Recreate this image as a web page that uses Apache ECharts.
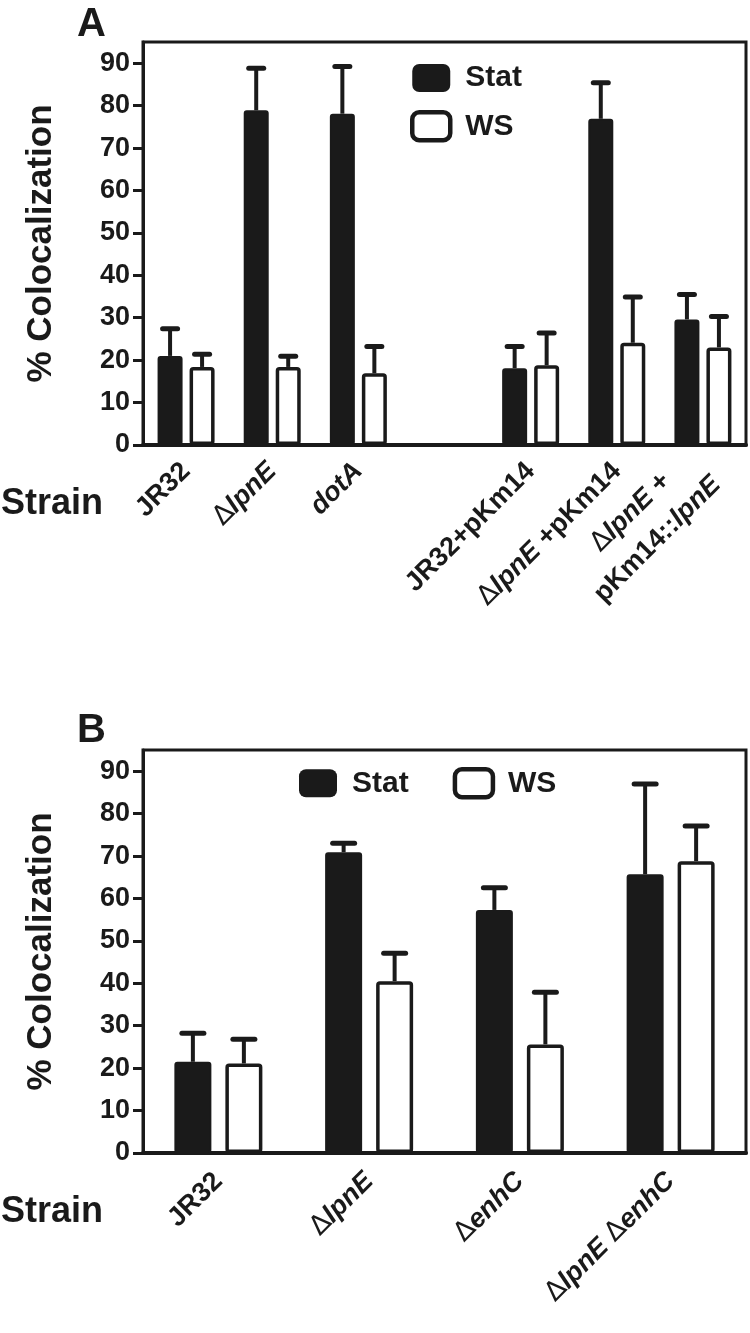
<!DOCTYPE html>
<html><head><meta charset="utf-8">
<script src="https://cdn.jsdelivr.net/npm/echarts@6/dist/echarts.min.js"></script>
<style>html,body{margin:0;padding:0;background:#fff}#c{width:750px;height:1333px}</style>
</head><body><div id="c"></div>
<script>
// ---------- data ----------
const categoriesA = ['JR32', 'ΔlpnE', 'dotA', '', 'JR32+pKm14', 'ΔlpnE +pKm14', 'ΔlpnE +\npKm14::lpnE'];
const statA    = [21.0, 78.9, 78.1, null, 18.1, 76.9, 29.6];
const statErrA = [6.4, 9.9, 11.1, null, 5.1, 8.5, 5.9];
const wsA      = [18.4, 18.4, 16.9, null, 18.8, 24.1, 23.0];
const wsErrA   = [3.0, 2.5, 6.3, null, 7.6, 10.8, 7.3];

const categoriesB = ['JR32', 'ΔlpnE', 'ΔenhC', 'ΔlpnE ΔenhC'];
const statB    = [21.5, 70.9, 57.3, 65.7];
const statErrB = [6.7, 2.1, 5.2, 21.3];
const wsB      = [21.1, 40.5, 25.6, 68.8];
const wsErrB   = [5.7, 6.6, 12.3, 8.3];

const yTicks = [0, 10, 20, 30, 40, 50, 60, 70, 80, 90];
const seriesNames = ['Stat', 'WS'];
const panelLetters = ['A', 'B'];
const yTitle = '% Colocalization';
const xTitle = 'Strain';

// ---------- styling ----------
const INK = '#1a1a1a';
const SANS = "'Liberation Sans', Arial, sans-serif";
const LBL = 27;

function richLabel(s) {
  const lines = s.split('\n');
  return lines.map((line, li) => {
    const suf = (lines.length > 1 && li === 0) ? 'c' : '';
    return line.split(/(Δ|lpnE|dotA|enhC)/).filter(t => t !== '').map(t => {
      if (t === 'Δ') return '{d' + suf + '|Δ}';
      if (/^(lpnE|dotA|enhC)$/.test(t)) return '{i' + suf + '|' + t + '}';
      return '{b' + suf + '|' + t + '}';
    }).join('');
  }).join('\n');
}
const richBase = {
  b: { fontFamily: SANS, fontWeight: 'bold', fontSize: LBL, color: INK, lineHeight: 38 },
  i: { fontFamily: SANS, fontWeight: 'bold', fontStyle: 'italic', fontSize: LBL, color: INK, lineHeight: 38 },
  d: { fontFamily: "'DejaVu Sans', sans-serif", fontWeight: 'normal', fontSize: LBL, color: INK, lineHeight: 38 }
};
const rich = {};
Object.keys(richBase).forEach(k => {
  rich[k] = richBase[k];
  rich[k + 'c'] = Object.assign({}, richBase[k], { align: 'center' });
});

function errSeries(idx, means, errs, offset, capW) {
  const data = [];
  means.forEach((m, i) => { if (m != null) data.push([i, m, m + errs[i]]); });
  return {
    type: 'custom', xAxisIndex: idx, yAxisIndex: idx, z: 1, silent: true,
    data: data,
    renderItem(params, api) {
      const i = api.value(0);
      const p0 = api.coord([i, api.value(1)]);
      const p1 = api.coord([i, api.value(2)]);
      const x = p0[0] + offset;
      return { type: 'group', children: [
        { type: 'line', shape: { x1: x, y1: p0[1], x2: x, y2: p1[1] }, style: { stroke: INK, lineWidth: 4 } },
        { type: 'line', shape: { x1: x - capW / 2, y1: p1[1], x2: x + capW / 2, y2: p1[1] }, style: { stroke: INK, lineWidth: 5, lineCap: 'round' } }
      ] };
    }
  };
}

function yAxis(idx) {
  return {
    type: 'value', gridIndex: idx, min: 0, max: 95, interval: 10,
    name: yTitle, nameLocation: 'middle', nameGap: 84,
    nameTextStyle: { fontFamily: SANS, fontWeight: 'bold', fontSize: 35, color: INK },
    axisLine: { show: true, lineStyle: { color: INK, width: 3 } },
    axisTick: { show: true, length: 10, lineStyle: { color: INK, width: 3 }, customValues: yTicks },
    axisLabel: { fontFamily: SANS, fontWeight: 'bold', fontSize: 27, color: INK, margin: 13, customValues: yTicks },
    splitLine: { show: false }
  };
}
function xAxis(idx, cats, margin) {
  return {
    type: 'category', gridIndex: idx, data: cats,
    axisLine: { show: true, lineStyle: { color: INK, width: 4 } },
    axisTick: { show: false },
    axisLabel: { interval: 0, rotate: 45, margin: margin, formatter: v => richLabel(v), rich: rich }
  };
}

const barW_A = 25, gapA = 7, barW_B = 37, gapB = 14;
const legendText = { fontFamily: SANS, fontWeight: 'bold', fontSize: 30, color: INK, padding: [0, 0, 0, 10] };
function legendData() {
  return [
    { name: seriesNames[0], icon: 'roundRect', itemStyle: { color: INK, borderWidth: 0 } },
    { name: seriesNames[1], icon: 'roundRect', itemStyle: { color: '#fff', borderColor: INK, borderWidth: 4.5 } }
  ];
}

const option = {
  animation: false,
  backgroundColor: '#fff',
  grid: [
    { left: 143, top: 42, width: 603, height: 403, show: true, borderColor: INK, borderWidth: 3, containLabel: false },
    { left: 143, top: 750, width: 603, height: 403, show: true, borderColor: INK, borderWidth: 3, containLabel: false }
  ],
  xAxis: [xAxis(0, categoriesA, 22), xAxis(1, categoriesB, 24)],
  yAxis: [yAxis(0), yAxis(1)],
  legend: [
    { orient: 'vertical', left: 410, top: 63, itemWidth: 38, itemHeight: 28, itemGap: 17, padding: 0,
      textStyle: legendText, data: legendData() },
    { orient: 'horizontal', left: 299, top: 767, itemWidth: 38, itemHeight: 28, itemGap: 44, padding: 0,
      textStyle: legendText, data: legendData() }
  ],
  graphic: [
    { type: 'text', left: 77, top: 5, style: { text: panelLetters[0], font: "bold 40px 'Liberation Sans', Arial", fill: INK } },
    { type: 'text', left: 77, top: 711, style: { text: panelLetters[1], font: "bold 40px 'Liberation Sans', Arial", fill: INK } },
    { type: 'text', left: 1, top: 486, style: { text: xTitle, font: "bold 36px 'Liberation Sans', Arial", fill: INK } },
    { type: 'text', left: 1, top: 1194, style: { text: xTitle, font: "bold 36px 'Liberation Sans', Arial", fill: INK } }
  ],
  series: [
    { type: 'bar', name: seriesNames[0], xAxisIndex: 0, yAxisIndex: 0, data: statA.map(v => v == null ? '-' : v),
      barWidth: barW_A, barGap: (gapA / barW_A * 100) + '%', z: 2,
      itemStyle: { color: INK, borderColor: INK, borderWidth: 2, borderRadius: 2 } },
    { type: 'bar', name: seriesNames[1], xAxisIndex: 0, yAxisIndex: 0, data: wsA.map(v => v == null ? '-' : v),
      barWidth: barW_A, barGap: (gapA / barW_A * 100) + '%', z: 2,
      itemStyle: { color: '#fff', borderColor: INK, borderWidth: 3.5, borderRadius: 2 } },
    errSeries(0, statA, statErrA, -(barW_A + gapA) / 2, 15),
    errSeries(0, wsA, wsErrA, (barW_A + gapA) / 2, 15),
    { type: 'bar', name: seriesNames[0], xAxisIndex: 1, yAxisIndex: 1, data: statB,
      barWidth: barW_B, barGap: (gapB / barW_B * 100) + '%', z: 2,
      itemStyle: { color: INK, borderColor: INK, borderWidth: 2, borderRadius: 2 } },
    { type: 'bar', name: seriesNames[1], xAxisIndex: 1, yAxisIndex: 1, data: wsB,
      barWidth: barW_B, barGap: (gapB / barW_B * 100) + '%', z: 2,
      itemStyle: { color: '#fff', borderColor: INK, borderWidth: 3.5, borderRadius: 2 } },
    errSeries(1, statB, statErrB, -(barW_B + gapB) / 2, 22),
    errSeries(1, wsB, wsErrB, (barW_B + gapB) / 2, 22)
  ]
};
const chart = echarts.init(document.getElementById('c'), null, { renderer: 'canvas' });
chart.setOption(option);
</script>
</body></html>
